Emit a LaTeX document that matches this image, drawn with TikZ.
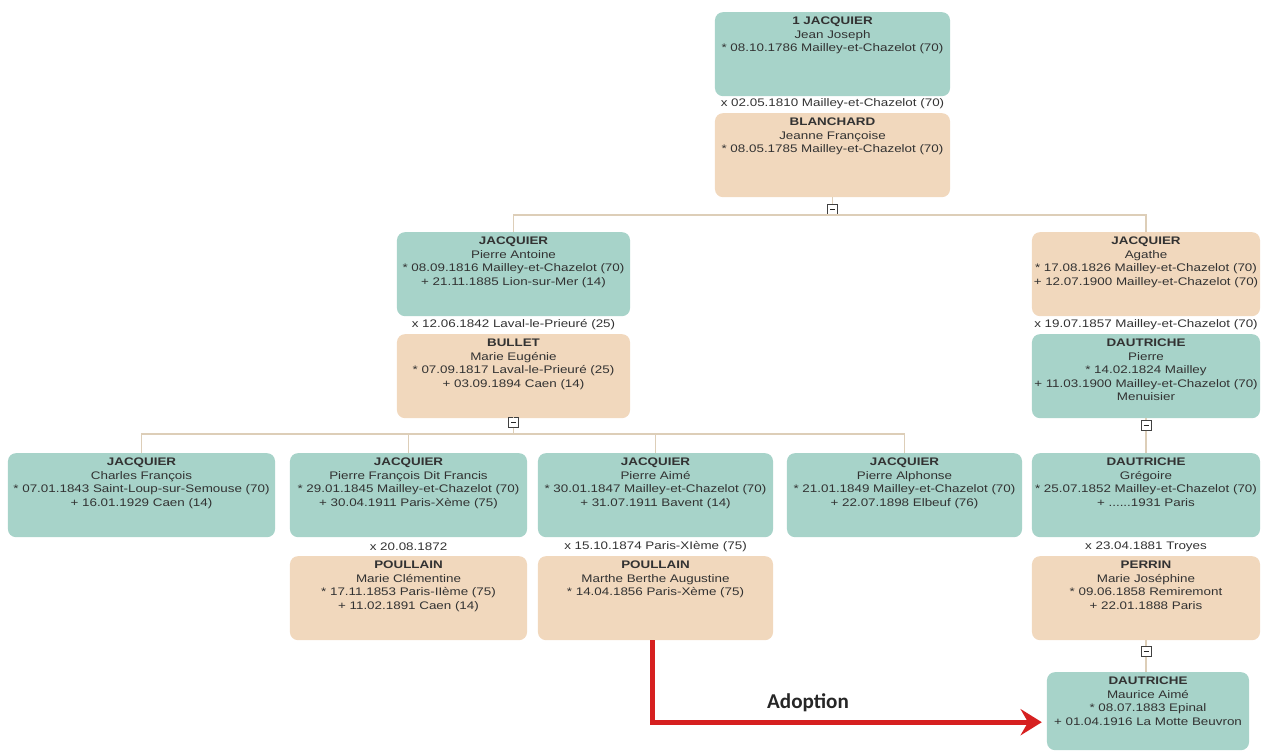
\documentclass[tikz,border=0pt]{standalone}
\usepackage{fontspec}
\setmainfont{Liberation Sans}[FakeStretch=1.22]
\newfontfamily\adoptfont{Carlito}
\usepackage{tikz}
\usetikzlibrary{arrows.meta,positioning,calc}

\definecolor{mancol}{RGB}{167,211,201}
\definecolor{womancol}{RGB}{241,216,189}
\definecolor{linkcol}{RGB}{221,206,184}
\definecolor{txtcol}{RGB}{50,50,50}
\definecolor{adoptred}{RGB}{214,32,32}

\begin{document}
\begin{tikzpicture}[x=0.04cm,y=-0.04cm,
person/.style={rounded corners=0.32cm, align=center, inner sep=0pt, anchor=north,
  text height=0.5cm, text depth=2.86cm, text=txtcol,
  font=\fontsize{12.5}{15.3}\selectfont},
man/.style={person, fill=mancol},
woman/.style={person, fill=womancol},
mlabel/.style={inner sep=0pt, text=txtcol, font=\fontsize{12.5}{15.3}\selectfont},
toggle/.style={draw=gray!50!black, fill=white, minimum size=0.4cm, inner sep=0pt, line width=0.04cm,
  path picture={\draw[gray!30!black, line width=0.04cm] ([xshift=-0.1cm]path picture bounding box.center) -- ([xshift=0.1cm]path picture bounding box.center);}},
link/.style={draw=linkcol, line width=0.06cm},
adopt/.style={draw=adoptred, line width=0.2cm, -{Stealth[length=0.85cm,width=1.05cm,inset=0.3cm]}}]
\useasboundingbox (0,0) rectangle (1268,751);

% first couple
\node[man, text width=9.4cm] (A) at (832.5,12) {\textbf{1 JACQUIER}\\Jean Joseph\\{*} 08.10.1786 Mailley-et-Chazelot (70)};
\node[mlabel] (mA) at (832.5,104) {x 02.05.1810 Mailley-et-Chazelot (70)};
\node[woman, text width=9.4cm] (A1) at (832.5,113) {\textbf{BLANCHARD}\\Jeanne Françoise\\{*} 08.05.1785 Mailley-et-Chazelot (70)};
\node[toggle] (t1) at (832.5,209) {};
\coordinate (bar1) at (832.5,215);

% second generation
\node[man, text width=9.32cm] (B) at (513.5,232) {\textbf{JACQUIER}\\Pierre Antoine\\{*} 08.09.1816 Mailley-et-Chazelot (70)\\+ 21.11.1885 Lion-sur-Mer (14)};
\node[mlabel] (mB) at (513.5,325) {x 12.06.1842 Laval-le-Prieuré (25)};
\node[woman, text width=9.32cm] (B1) at (513.5,334) {\textbf{BULLET}\\Marie Eugénie\\{*} 07.09.1817 Laval-le-Prieuré (25)\\+ 03.09.1894 Caen (14)};
\node[toggle] (t2) at (513.5,422) {};
\coordinate (bar2) at (513.5,434);

\node[woman, text width=9.12cm] (C) at (1146,232) {\textbf{JACQUIER}\\Agathe\\{*} 17.08.1826 Mailley-et-Chazelot (70)\\+ 12.07.1900 Mailley-et-Chazelot (70)};
\node[mlabel] (mC) at (1146,325) {x 19.07.1857 Mailley-et-Chazelot (70)};
\node[man, text width=9.12cm] (C1) at (1146,334) {\textbf{DAUTRICHE}\\Pierre\\{*} 14.02.1824 Mailley\\+ 11.03.1900 Mailley-et-Chazelot (70)\\Menuisier};
\node[toggle] (t3) at (1146,425) {};

% third generation
\node[man, text width=10.68cm] (K1) at (141.5,453) {\textbf{JACQUIER}\\Charles François\\{*} 07.01.1843 Saint-Loup-sur-Semouse (70)\\+ 16.01.1929 Caen (14)};
\node[man, text width=9.48cm] (K2) at (408.5,453) {\textbf{JACQUIER}\\Pierre François Dit Francis\\{*} 29.01.1845 Mailley-et-Chazelot (70)\\+ 30.04.1911 Paris-Xème (75)};
\node[man, text width=9.4cm] (K3) at (655.5,453) {\textbf{JACQUIER}\\Pierre Aimé\\{*} 30.01.1847 Mailley-et-Chazelot (70)\\+ 31.07.1911 Bavent (14)};
\node[man, text width=9.4cm] (K4) at (904.5,453) {\textbf{JACQUIER}\\Pierre Alphonse\\{*} 21.01.1849 Mailley-et-Chazelot (70)\\+ 22.07.1898 Elbeuf (76)};
\node[man, text width=9.12cm] (D) at (1146,453) {\textbf{DAUTRICHE}\\Grégoire\\{*} 25.07.1852 Mailley-et-Chazelot (70)\\+ ......1931 Paris};

\node[mlabel] (mK2) at (408.5,547) {x 20.08.1872};
\node[woman, text width=9.48cm] (K2w) at (408.5,556) {\textbf{POULLAIN}\\Marie Clémentine\\{*} 17.11.1853 Paris-IIème (75)\\+ 11.02.1891 Caen (14)};
\node[mlabel] (mK3) at (655.5,547) {x 15.10.1874 Paris-XIème (75)};
\node[woman, text width=9.4cm] (K3w) at (655.5,556) {\textbf{POULLAIN}\\Marthe Berthe Augustine\\{*} 14.04.1856 Paris-Xème (75)};
\node[mlabel] (mD) at (1146,547) {x 23.04.1881 Troyes};
\node[woman, text width=9.12cm] (D1) at (1146,556) {\textbf{PERRIN}\\Marie Joséphine\\{*} 09.06.1858 Remiremont\\+ 22.01.1888 Paris};
\node[toggle] (t4) at (1146,651) {};

% fourth generation
\node[man, text width=8.08cm, text depth=2.62cm] (E) at (1148,672) {\textbf{DAUTRICHE}\\Maurice Aimé\\{*} 08.07.1883 Epinal\\+ 01.04.1916 La Motte Beuvron};

% tree links
\draw[link] (A1.south) -- (t1.north);
\draw[link] (t1.south) -- (bar1);
\draw[link] (B.north) |- (C.north |- bar1) -- (C.north);
\draw[link] (B1.south) -- (t2.north);
\draw[link] (t2.south) -- (bar2);
\draw[link] (K1.north) |- (K4.north |- bar2) -- (K4.north);
\foreach \k in {K2,K3}
  \draw[link] (\k.north) -- (\k.north |- bar2);
\draw[link] (C1.south) -- (t3.north);
\draw[link] (t3.south) -- (D.north);
\draw[link] (D1.south) -- (t4.north);
\draw[link] (t4.south) -- (t4 |- E.north);

% adoption
\draw[adopt, shorten >=0.2cm] ([xshift=-0.14cm]K3w.south) |- ([yshift=-0.44cm]E.west);
\node[text=black!85, font=\adoptfont\bfseries\fontsize{24}{28}\selectfont] (adoption) at (808,703) {Adoption};
\end{tikzpicture}
\end{document}
